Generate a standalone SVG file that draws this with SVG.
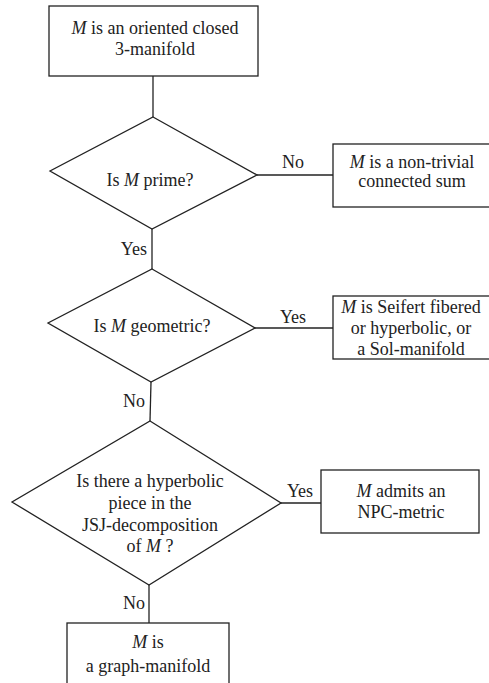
<svg xmlns="http://www.w3.org/2000/svg" width="489" height="683" viewBox="0 0 489 683">
<style>
.n{fill:#fff;stroke:#222;stroke-width:1.3}
.c{fill:none;stroke:#222;stroke-width:1.3}
text{font-family:"Liberation Serif","Times New Roman",serif;font-size:18px;fill:#222;text-anchor:middle}
.r{text-anchor:end}
.i{font-style:italic}
</style>
<rect width="489" height="683" fill="#fff"/>
<g id="connectors">
<line class="c" x1="153" y1="76" x2="153" y2="117"/>
<line class="c" x1="257" y1="175" x2="333" y2="175"/>
<line class="c" x1="152" y1="229" x2="152" y2="269"/>
<line class="c" x1="255" y1="328" x2="333" y2="328"/>
<line class="c" x1="151" y1="382" x2="150" y2="421"/>
<line class="c" x1="281" y1="503" x2="321" y2="503"/>
<line class="c" x1="149" y1="585" x2="149" y2="623"/>
<text x="293" y="168">No</text>
<text class="r" x="147" y="255">Yes</text>
<text x="293" y="323">Yes</text>
<text class="r" x="145" y="407">No</text>
<text x="300" y="497">Yes</text>
<text class="r" x="145" y="609">No</text>
</g>
<g id="start">
<rect class="n" x="49" y="6" width="209" height="70"/>
<text x="155" y="34"><tspan class="i">M</tspan> is an oriented closed</text>
<text x="155" y="55">3-manifold</text>
</g>
<g id="prime">
<polygon class="n" points="153,117 257,175 152,229 50,171"/>
<text x="150" y="186">Is <tspan class="i">M</tspan> prime?</text>
</g>
<g id="connsum">
<rect class="n" x="333" y="144" width="170" height="63"/>
<text x="412" y="168"><tspan class="i">M</tspan> is a non-trivial</text>
<text x="412" y="187">connected sum</text>
</g>
<g id="geometric">
<polygon class="n" points="152,269 255,328 151,382 48,323"/>
<text x="152" y="332">Is <tspan class="i">M</tspan> geometric?</text>
</g>
<g id="geomresult">
<rect class="n" x="333" y="296" width="170" height="63"/>
<text x="411" y="313"><tspan class="i">M</tspan> is Seifert fibered</text>
<text x="411" y="334">or hyperbolic, or</text>
<text x="411" y="355">a Sol-manifold</text>
</g>
<g id="hyperbolic">
<polygon class="n" points="150,421 281,503 149,585 12,502"/>
<text x="150" y="487">Is there a hyperbolic</text>
<text x="150" y="509">piece in the</text>
<text x="150" y="531">JSJ-decomposition</text>
<text x="150" y="552">of <tspan class="i">M</tspan> ?</text>
</g>
<g id="npc">
<rect class="n" x="321" y="470" width="158" height="63"/>
<text x="401" y="497"><tspan class="i">M</tspan> admits an</text>
<text x="401" y="518">NPC-metric</text>
</g>
<g id="graph">
<rect class="n" x="67" y="623" width="162" height="70"/>
<text x="148" y="648"><tspan class="i">M</tspan> is</text>
<text x="148" y="672">a graph-manifold</text>
</g>
</svg>
